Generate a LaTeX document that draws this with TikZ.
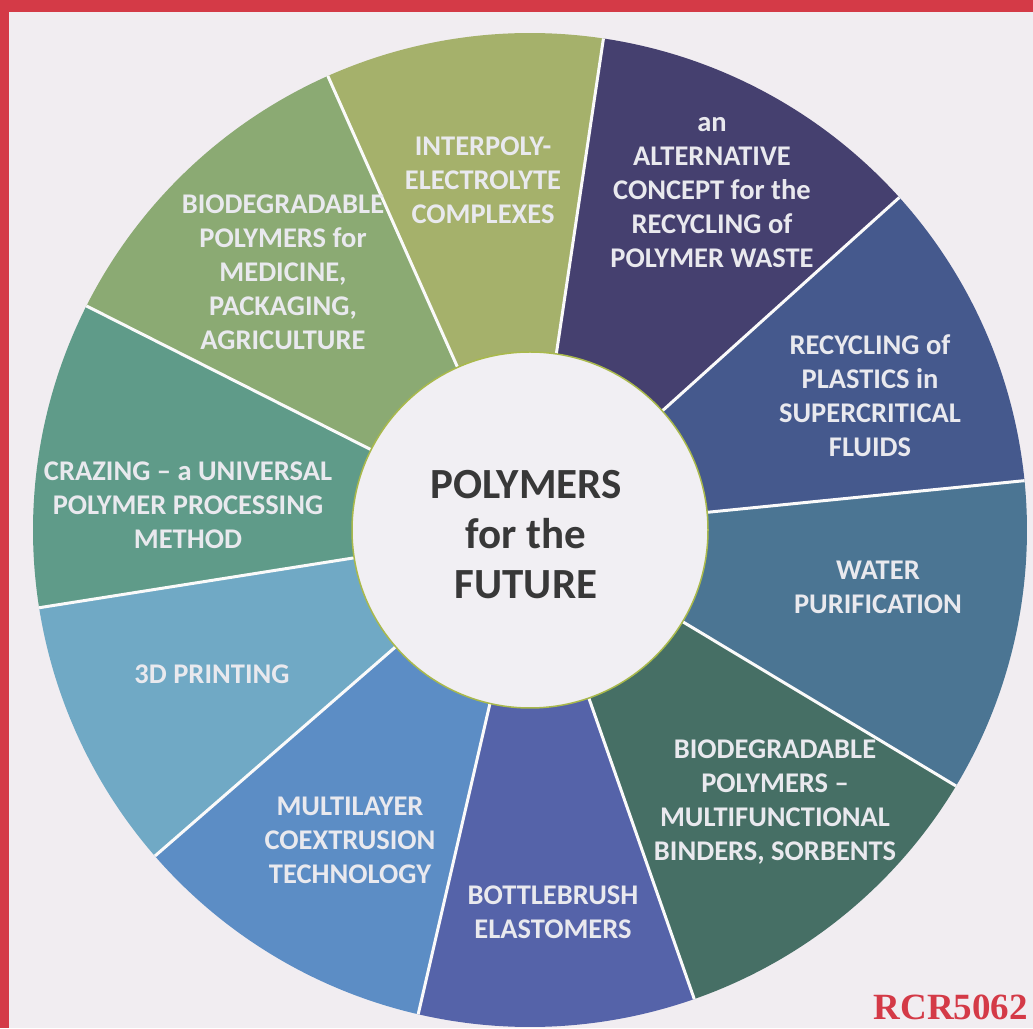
\documentclass[tikz,border=0pt]{standalone}
\usepackage{fontspec}
\setmainfont{Carlito}
\newfontfamily\rcrfont{Liberation Serif}
\definecolor{bgc}{HTML}{F1EDF1}
\definecolor{redc}{HTML}{D43A47}
\definecolor{cInter}{HTML}{A5B16B}
\definecolor{cMed}{HTML}{8BAA73}
\definecolor{cCraz}{HTML}{5F9B89}
\definecolor{cPrint}{HTML}{70A9C5}
\definecolor{cMulti}{HTML}{5C8DC5}
\definecolor{cBottle}{HTML}{5563A9}
\definecolor{cBind}{HTML}{466F65}
\definecolor{cWater}{HTML}{4B7593}
\definecolor{cSuper}{HTML}{45598D}
\definecolor{cAlt}{HTML}{45406F}
\definecolor{lbltext}{HTML}{E9E9EE}
\definecolor{ctrtext}{HTML}{383838}
\definecolor{ctrfill}{HTML}{F1EFF3}
\definecolor{ctredge}{HTML}{A9B94C}
\tikzset{
  lbl/.style={text=lbltext, align=center, font=\fontsize{28.5}{34}\selectfont\bfseries, inner sep=0pt},
  sepline/.style={draw=white!96!gray, line width=3pt},
  sector/.style={line width=0pt}
}
\newcommand{\sect}[3]{\fill[#1] (O) -- ++(#2:497) arc[start angle=#2, end angle=#3, radius=497] -- cycle;}
\begin{document}
\begin{tikzpicture}[x=1pt,y=1pt]
\useasboundingbox (0,0) rectangle (1033,1028);
\fill[bgc] (0,0) rectangle (1033,1028);
\fill[redc] (0,1016) rectangle (1033,1028);
\fill[redc] (0,0) rectangle (9,1028);
\coordinate (O) at (530,498);
% sectors
\sect{cInter}{81.5}{114}
\sect{cAlt}{42}{81.5}
\sect{cSuper}{5.7}{42}
\sect{cWater}{-31}{5.7}
\sect{cBind}{-70.7}{-31}
\sect{cBottle}{-103}{-70.7}
\sect{cMulti}{-139}{-103}
\sect{cPrint}{-171}{-139}
\sect{cCraz}{153.2}{189}
\sect{cMed}{114}{153.2}
% separators
\foreach \a in {114,81.5,42,5.7,-31,-70.7,-103,-139,-171,153.2}
  \draw[sepline] (O) -- ++(\a:497);
% centre
\node[circle, fill=ctrfill, draw=ctredge, line width=1.5pt, minimum size=356pt, inner sep=0pt] (C) at (O) {};
\node[text=ctrtext, align=center, font=\fontsize{43}{50}\selectfont\bfseries, inner sep=0pt] (ctitle) at (526,493) {POLYMERS\\for the\\FUTURE};
% labels
\node[lbl] (tInter) at (483,848) {INTERPOLY-\\ELECTROLYTE\\COMPLEXES};
\node[lbl] (tAlt) at (712,835) {an\\ALTERNATIVE\\CONCEPT for the\\RECYCLING of\\POLYMER WASTE};
\node[lbl] (tSuper) at (870,632) {RECYCLING of\\PLASTICS in\\SUPERCRITICAL\\FLUIDS};
\node[lbl] (tWater) at (878,441) {WATER\\PURIFICATION};
\node[lbl] (tBind) at (775,226) {BIODEGRADABLE\\POLYMERS --\\MULTIFUNCTIONAL\\BINDERS, SORBENTS};
\node[lbl] (tBottle) at (553,116) {BOTTLEBRUSH\\ELASTOMERS};
\node[lbl] (tMulti) at (350,188) {MULTILAYER\\COEXTRUSION\\TECHNOLOGY};
\node[lbl] (tPrint) at (212,354) {3D PRINTING};
\node[lbl] (tCraz) at (188,523) {CRAZING -- a UNIVERSAL\\POLYMER PROCESSING\\METHOD};
\node[lbl] (tMed) at (283,756) {BIODEGRADABLE\\POLYMERS for\\MEDICINE,\\PACKAGING,\\AGRICULTURE};
\node[text=redc, font=\rcrfont\fontsize{37}{37}\selectfont\bfseries, anchor=base east, inner sep=0pt] (rcr) at (1028,9) {RCR5062};
\end{tikzpicture}
\end{document}
